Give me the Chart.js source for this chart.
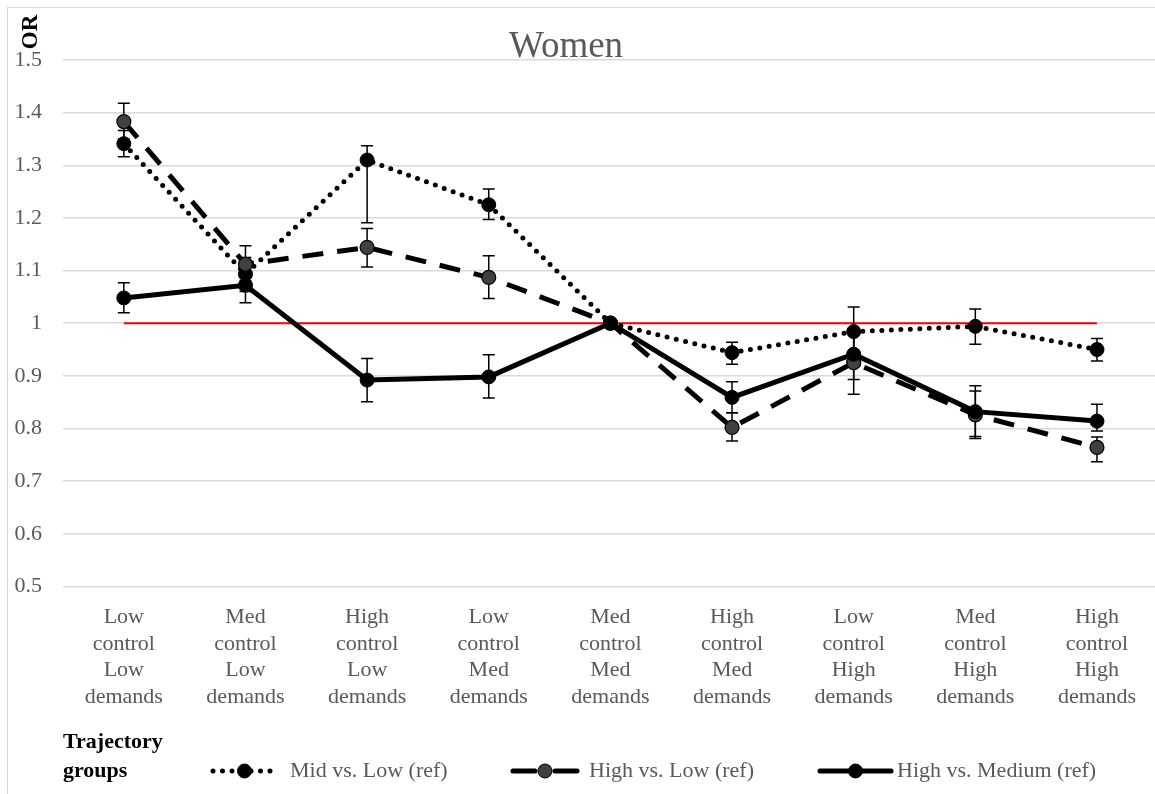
<!DOCTYPE html>
<html>
<head>
<meta charset="utf-8">
<script src="https://cdn.jsdelivr.net/npm/chart.js@4.4.1/dist/chart.umd.min.js"></script>
<style>
  html, body { margin: 0; padding: 0; background: #fff; overflow: hidden; }
  #frame { position: absolute; left: 7px; top: 7px; width: 1200px; height: 900px; border: 1px solid #d9d9d9; }
  #wrap { position: absolute; left: 0; top: 0; width: 1166px; height: 794px; }
</style>
</head>
<body>
<div id="frame"></div>
<div id="wrap"><canvas id="orChart"></canvas></div>
<script>
const categories = [
  ['Low', 'control', 'Low', 'demands'],
  ['Med', 'control', 'Low', 'demands'],
  ['High', 'control', 'Low', 'demands'],
  ['Low', 'control', 'Med', 'demands'],
  ['Med', 'control', 'Med', 'demands'],
  ['High', 'control', 'Med', 'demands'],
  ['Low', 'control', 'High', 'demands'],
  ['Med', 'control', 'High', 'demands'],
  ['High', 'control', 'High', 'demands']
];

const refLine = [1, 1, 1, 1, 1, 1, 1, 1, 1];

// Mid vs. Low (ref)
const midVals = [1.341, 1.093, 1.31, 1.225, 1.0, 0.944, 0.984, 0.994, 0.95];
const midLow  = [1.316, 1.06, 1.191, 1.197, null, 0.922, 0.94, 0.96, 0.928];
const midHigh = [1.366, 1.125, 1.337, 1.255, null, 0.964, 1.031, 1.027, 0.971];

// High vs. Low (ref)
const hvlVals = [1.383, 1.112, 1.144, 1.087, 1.0, 0.802, 0.925, 0.826, 0.764];
const hvlLow  = [1.35, 1.08, 1.107, 1.047, null, 0.776, 0.865, 0.781, 0.737];
const hvlHigh = [1.418, 1.147, 1.18, 1.128, null, 0.83, 0.98, 0.871, 0.784];

// High vs. Medium (ref)
const hvmVals = [1.048, 1.072, 0.892, 0.898, 1.0, 0.859, 0.941, 0.832, 0.814];
const hvmLow  = [1.02, 1.039, 0.851, 0.858, null, 0.83, 0.893, 0.785, 0.795];
const hvmHigh = [1.077, 1.10, 0.933, 0.94, null, 0.889, 0.985, 0.881, 0.846];

const seriesNames = ['Mid vs. Low (ref)', 'High vs. Low (ref)', 'High vs. Medium (ref)'];

const grey = '#595959';
Chart.defaults.font.family = "'Liberation Serif', 'Times New Roman', serif";
Chart.defaults.font.size = 22;
Chart.defaults.color = grey;

// error bars, drawn right after the red reference line so the series sit on top
const errorBars = {
  id: 'errorBars',
  afterDatasetDraw(chart, args) {
    if (args.index !== 0) return;
    const ctx = chart.ctx;
    const y = chart.scales.y;
    ctx.save();
    ctx.strokeStyle = '#000';
    ctx.lineWidth = 1.5;
    ctx.setLineDash([]);
    chart.data.datasets.forEach((ds, i) => {
      if (!ds.errLow) return;
      const meta = chart.getDatasetMeta(i);
      ds.errLow.forEach((lo, j) => {
        const hi = ds.errHigh[j];
        if (lo == null || hi == null) return;
        const x = meta.data[j].x;
        const y1 = y.getPixelForValue(lo);
        const y2 = y.getPixelForValue(hi);
        ctx.beginPath();
        ctx.moveTo(x, y1); ctx.lineTo(x, y2);
        ctx.moveTo(x - 6, y1); ctx.lineTo(x + 6, y1);
        ctx.moveTo(x - 6, y2); ctx.lineTo(x + 6, y2);
        ctx.stroke();
      });
    });
    ctx.restore();
  }
};

// title, OR label and the legend row at the bottom
const decorations = {
  id: 'decorations',
  afterDraw(chart) {
    const ctx = chart.ctx;
    ctx.save();
    ctx.fillStyle = grey;
    ctx.font = "37px 'Liberation Serif'";
    ctx.textAlign = 'center';
    ctx.textBaseline = 'alphabetic';
    ctx.fillText('Women', 566, 57);

    ctx.fillStyle = '#000';
    ctx.font = "bold 23px 'Liberation Serif'";
    ctx.translate(31, 32);
    ctx.rotate(-Math.PI / 2);
    ctx.textBaseline = 'middle';
    ctx.fillText('OR', 0, 0);
    ctx.setTransform(1, 0, 0, 1, 0, 0);

    ctx.textAlign = 'left';
    ctx.textBaseline = 'alphabetic';
    ctx.font = "bold 22px 'Liberation Serif'";
    ctx.fillText('Trajectory', 63, 748);
    ctx.fillText('groups', 63, 777);

    const ly = 771;
    const items = [
      { ds: 1, x0: 213, x1: 276, tx: 290 },
      { ds: 2, x0: 511, x1: 579, tx: 589 },
      { ds: 3, x0: 820, x1: 891, tx: 897 }
    ];
    items.forEach((it, k) => {
      const ds = chart.data.datasets[it.ds];
      const cx = (it.x0 + it.x1) / 2;
      ctx.strokeStyle = '#000';
      ctx.lineWidth = ds.borderWidth;
      ctx.lineCap = 'round';
      if (k === 0) {
        ctx.setLineDash(ds.borderDash);
        ctx.beginPath(); ctx.moveTo(it.x0, ly); ctx.lineTo(it.x1, ly); ctx.stroke();
      } else if (k === 1) {
        ctx.setLineDash([]);
        ctx.beginPath();
        ctx.moveTo(it.x0 + 2, ly); ctx.lineTo(cx - 10, ly);
        ctx.moveTo(cx + 10, ly); ctx.lineTo(it.x1 - 2, ly);
        ctx.stroke();
      } else {
        ctx.setLineDash([]);
        ctx.beginPath(); ctx.moveTo(it.x0, ly); ctx.lineTo(it.x1, ly); ctx.stroke();
      }
      ctx.setLineDash([]);
      ctx.beginPath();
      ctx.arc(cx, ly, ds.pointRadius, 0, Math.PI * 2);
      ctx.fillStyle = ds.pointBackgroundColor;
      ctx.fill();
      ctx.lineWidth = 1;
      ctx.stroke();
      ctx.fillStyle = grey;
      ctx.font = "22px 'Liberation Serif'";
      ctx.textBaseline = 'middle';
      ctx.fillText(seriesNames[k], it.tx, ly);
    });
    ctx.restore();
  }
};

new Chart(document.getElementById('orChart'), {
  type: 'line',
  data: {
    labels: categories,
    datasets: [
      {
        label: 'ref',
        data: refLine,
        borderColor: '#ff0000',
        borderWidth: 2,
        pointRadius: 0,
        order: 3
      },
      {
        label: seriesNames[0],
        data: midVals,
        errLow: midLow,
        errHigh: midHigh,
        borderColor: '#000',
        borderWidth: 5,
        borderDash: [0, 9.5],
        borderCapStyle: 'round',
        pointRadius: 7,
        pointBackgroundColor: '#000',
        pointBorderColor: '#000',
        pointBorderWidth: 1,
        order: 2
      },
      {
        label: seriesNames[1],
        data: hvlVals,
        errLow: hvlLow,
        errHigh: hvlHigh,
        borderColor: '#000',
        borderWidth: 5,
        borderDash: [21, 14],
        pointRadius: 7,
        pointBackgroundColor: '#404040',
        pointBorderColor: '#000',
        pointBorderWidth: 1.2,
        order: 1
      },
      {
        label: seriesNames[2],
        data: hvmVals,
        errLow: hvmLow,
        errHigh: hvmHigh,
        borderColor: '#000',
        borderWidth: 5,
        pointRadius: 7,
        pointBackgroundColor: '#000',
        pointBorderColor: '#000',
        pointBorderWidth: 1,
        order: 0
      }
    ]
  },
  options: {
    responsive: true,
    maintainAspectRatio: false,
    animation: false,
    layout: { padding: { top: 60, left: 14, right: 2, bottom: 66 } },
    plugins: {
      legend: { display: false },
      tooltip: { enabled: false }
    },
    scales: {
      x: {
        offset: true,
        grid: { display: false, drawTicks: false },
        border: { display: false },
        ticks: { padding: 18, maxRotation: 0, autoSkip: false, color: grey }
      },
      y: {
        min: 0.5,
        max: 1.5,
        afterFit: (scale) => { scale.width = 49; },
        grid: { color: '#d9d9d9', lineWidth: 1.5, drawTicks: false },
        border: { display: false },
        ticks: {
          stepSize: 0.1,
          padding: 21,
          color: grey,
          callback: (v) => String(Math.round(v * 10) / 10)
        }
      }
    }
  },
  plugins: [errorBars, decorations]
});
</script>
</body>
</html>
